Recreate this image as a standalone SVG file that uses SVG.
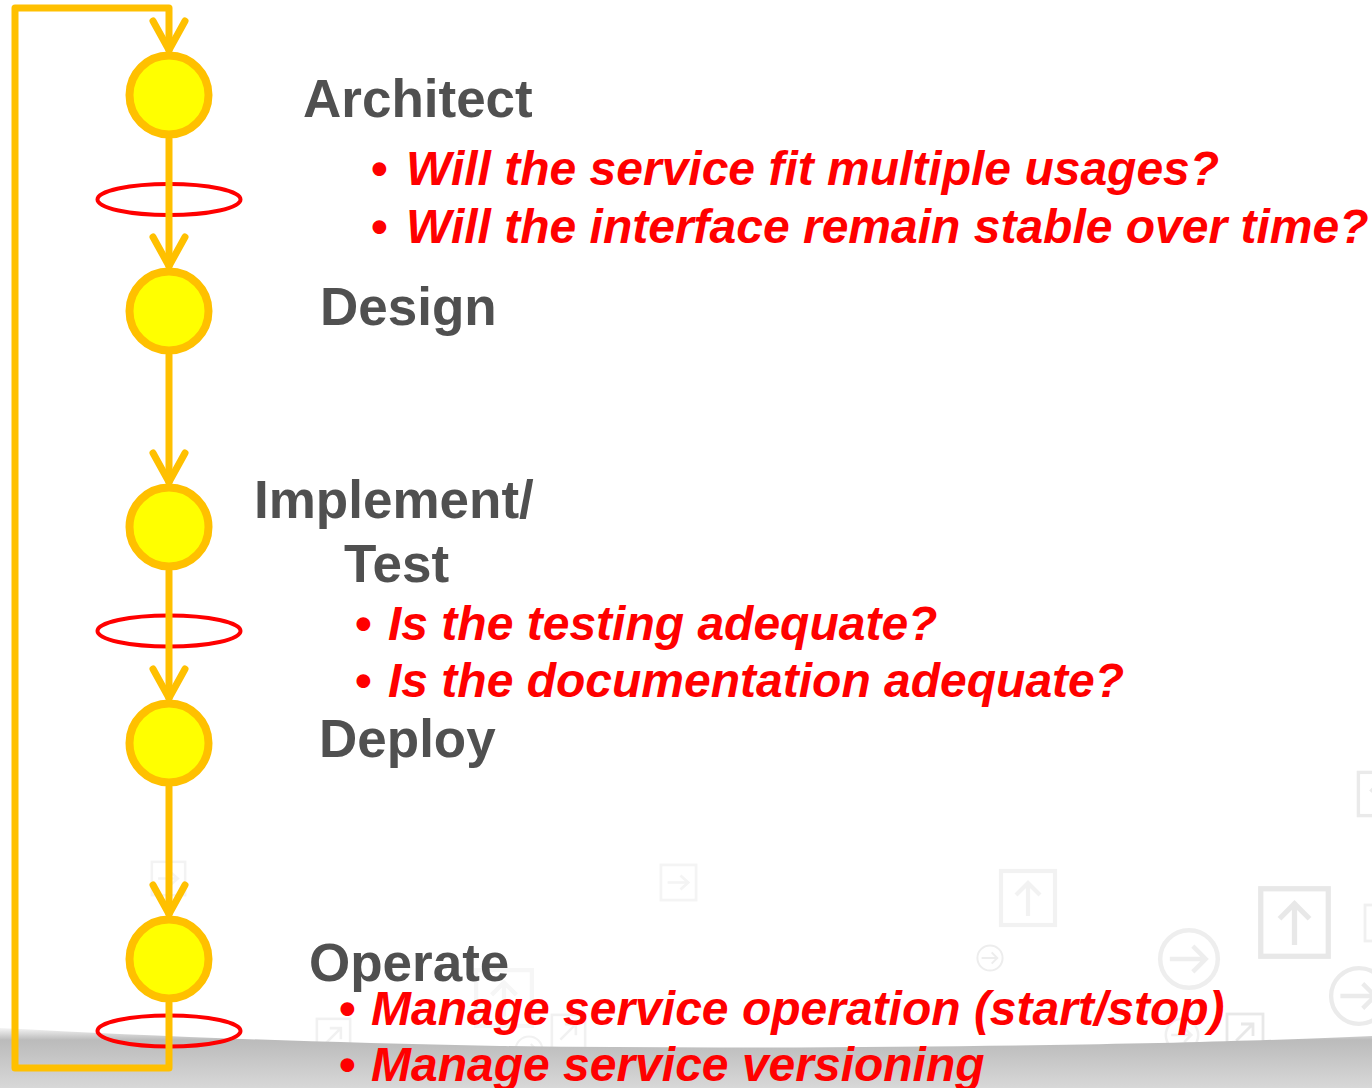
<svg xmlns="http://www.w3.org/2000/svg" xmlns:xlink="http://www.w3.org/1999/xlink" width="1372" height="1088" viewBox="0 0 1372 1088">
  <style>
    .stage { fill: #FFFF00; stroke: #FFC000; stroke-width: 8; }
    .gate { fill: none; stroke: #FF0000; stroke-width: 4; }
    .flow { fill: none; stroke: #FFC000; stroke-width: 7; stroke-linejoin: round; stroke-linecap: round; }
    .title { font-family: "Liberation Sans", Arial, sans-serif; font-weight: bold; font-size: 53px; fill: #505050; }
    .point { font-family: "Liberation Sans", Arial, sans-serif; font-weight: bold; font-style: italic; font-size: 48px; fill: #FF0000; }
    .dot { font-family: "Liberation Sans", Arial, sans-serif; font-weight: bold; font-size: 48px; fill: #FF0000; }
    .icon { fill: none; stroke-width: 7; stroke-linecap: butt; }
  </style>
  <defs>
    <marker id="chevron" markerUnits="userSpaceOnUse" markerWidth="40" markerHeight="40" refX="0" refY="0" orient="auto" overflow="visible">
      <path d="M-29,-16 L0,0 L-29,16" fill="none" stroke="#FFC000" stroke-width="7" stroke-linecap="round" stroke-linejoin="round"/>
    </marker>
    <linearGradient id="floor" gradientUnits="userSpaceOnUse" x1="0" y1="1028" x2="0" y2="1088">
      <stop offset="0" stop-color="#F4F4F4"/>
      <stop offset="0.2" stop-color="#BBBBBB"/>
      <stop offset="1" stop-color="#D8D8D8"/>
    </linearGradient>
    <!-- faint backdrop pictograms -->
    <symbol id="box-up" viewBox="0 0 100 100" overflow="visible">
      <rect class="icon" x="5" y="5" width="90" height="90"/>
      <path class="icon" d="M50,80 V25 M30,45 L50,25 L70,45"/>
    </symbol>
    <symbol id="box-right" viewBox="0 0 100 100" overflow="visible">
      <rect class="icon" x="5" y="5" width="90" height="90"/>
      <path class="icon" d="M22,50 H75 M55,32 L75,50 L55,68"/>
    </symbol>
    <symbol id="box-diag" viewBox="0 0 100 100" overflow="visible">
      <rect class="icon" x="5" y="5" width="90" height="90"/>
      <path class="icon" d="M28,72 L70,30 M40,30 H70 V60"/>
    </symbol>
    <symbol id="ring-right" viewBox="0 0 100 100" overflow="visible">
      <circle class="icon" cx="50" cy="50" r="45"/>
      <path class="icon" d="M20,50 H76 M56,30 L76,50 L56,70"/>
    </symbol>
  </defs>

  <rect width="1372" height="1088" fill="#FFFFFF"/>

  <!-- backdrop -->
  <g id="backdrop">
    <use href="#box-right" x="150" y="860" width="37" height="37" stroke="#F3F3F3"/>
    <use href="#box-right" x="659" y="863" width="39" height="39" stroke="#F4F4F4"/>
    <use href="#box-up" x="998" y="868" width="60" height="60" stroke="#F2F2F2"/>
    <use href="#ring-right" x="976" y="944" width="28" height="28" stroke="#EDEDED"/>
    <use href="#ring-right" x="1157" y="927" width="64" height="64" stroke="#EEEEEE"/>
    <use href="#box-up" x="1257" y="885" width="75" height="75" stroke="#E8E8E8"/>
    <use href="#ring-right" x="1328" y="965" width="62" height="62" stroke="#EBEBEB"/>
    <use href="#box-up" x="1356" y="770" width="48" height="48" stroke="#EAEAEA"/>
    <use href="#box-up" x="1363" y="903" width="40" height="40" stroke="#F0F0F0"/>
    <use href="#box-diag" x="1225" y="1012" width="40" height="40" stroke="#E8E8E8"/>
    <use href="#ring-right" x="1164" y="1017" width="36" height="36" stroke="#F0F0F0"/>
    <use href="#box-up" x="473" y="967" width="62" height="62" stroke="#F6F6F6"/>
    <use href="#box-diag" x="550" y="1013" width="37" height="37" stroke="#F1F1F1"/>
    <use href="#ring-right" x="514" y="1035" width="30" height="30" stroke="#F1F1F1"/>
    <use href="#box-diag" x="315" y="1017" width="37" height="37" stroke="#F1F1F1"/>
    <path d="M0,1028 C150,1036 300,1042 500,1046 C700,1049 900,1047 1050,1045 S1300,1039 1372,1036 L1372,1088 L0,1088 Z" fill="url(#floor)"/>
  </g>

  <!-- quality gates between stages -->
  <g id="gate-architect">
    <ellipse class="gate" cx="169" cy="199.5" rx="71.5" ry="15.5"/>
  </g>
  <g id="gate-test">
    <ellipse class="gate" cx="169" cy="631" rx="71.5" ry="15.5"/>
  </g>
  <g id="gate-operate">
    <ellipse class="gate" cx="169" cy="1031" rx="71.5" ry="15.5"/>
  </g>

  <!-- flow between stages -->
  <g id="connectors">
    <path class="flow" d="M169,139 V266" marker-end="url(#chevron)"/>
    <path class="flow" d="M169,355 V482" marker-end="url(#chevron)"/>
    <path class="flow" d="M169,571 V698" marker-end="url(#chevron)"/>
    <path class="flow" d="M169,787 V914" marker-end="url(#chevron)"/>
    <path class="flow" d="M169,1003 V1068 H15 V8 H169 V50" marker-end="url(#chevron)"/>
  </g>

  <!-- stages -->
  <g id="stage-architect">
    <circle class="stage" cx="169" cy="95" r="39.5"/>
    <text class="title" x="303" y="117">Architect</text>
    <text class="dot" x="371" y="185">•</text>
    <text class="point" x="406" y="185">Will the service fit multiple usages?</text>
    <text class="dot" x="371" y="243">•</text>
    <text class="point" x="406" y="243">Will the interface remain stable over time?</text>
  </g>
  <g id="stage-design">
    <circle class="stage" cx="169" cy="311" r="39.5"/>
    <text class="title" x="320" y="325">Design</text>
  </g>
  <g id="stage-implement">
    <circle class="stage" cx="169" cy="527" r="39.5"/>
    <text class="title" x="254" y="518">Implement/</text>
    <text class="title" x="344" y="582">Test</text>
    <text class="dot" x="355" y="640">•</text>
    <text class="point" x="388" y="640">Is the testing adequate?</text>
    <text class="dot" x="355" y="697">•</text>
    <text class="point" x="388" y="697">Is the documentation adequate?</text>
  </g>
  <g id="stage-deploy">
    <circle class="stage" cx="169" cy="743" r="39.5"/>
    <text class="title" x="319" y="757">Deploy</text>
  </g>
  <g id="stage-operate">
    <circle class="stage" cx="169" cy="959" r="39.5"/>
    <text class="title" x="309" y="981">Operate</text>
    <text class="dot" x="339" y="1025">•</text>
    <text class="point" x="371" y="1025">Manage service operation (start/stop)</text>
    <text class="dot" x="339" y="1081">•</text>
    <text class="point" x="371" y="1081">Manage service versioning</text>
  </g>
</svg>
